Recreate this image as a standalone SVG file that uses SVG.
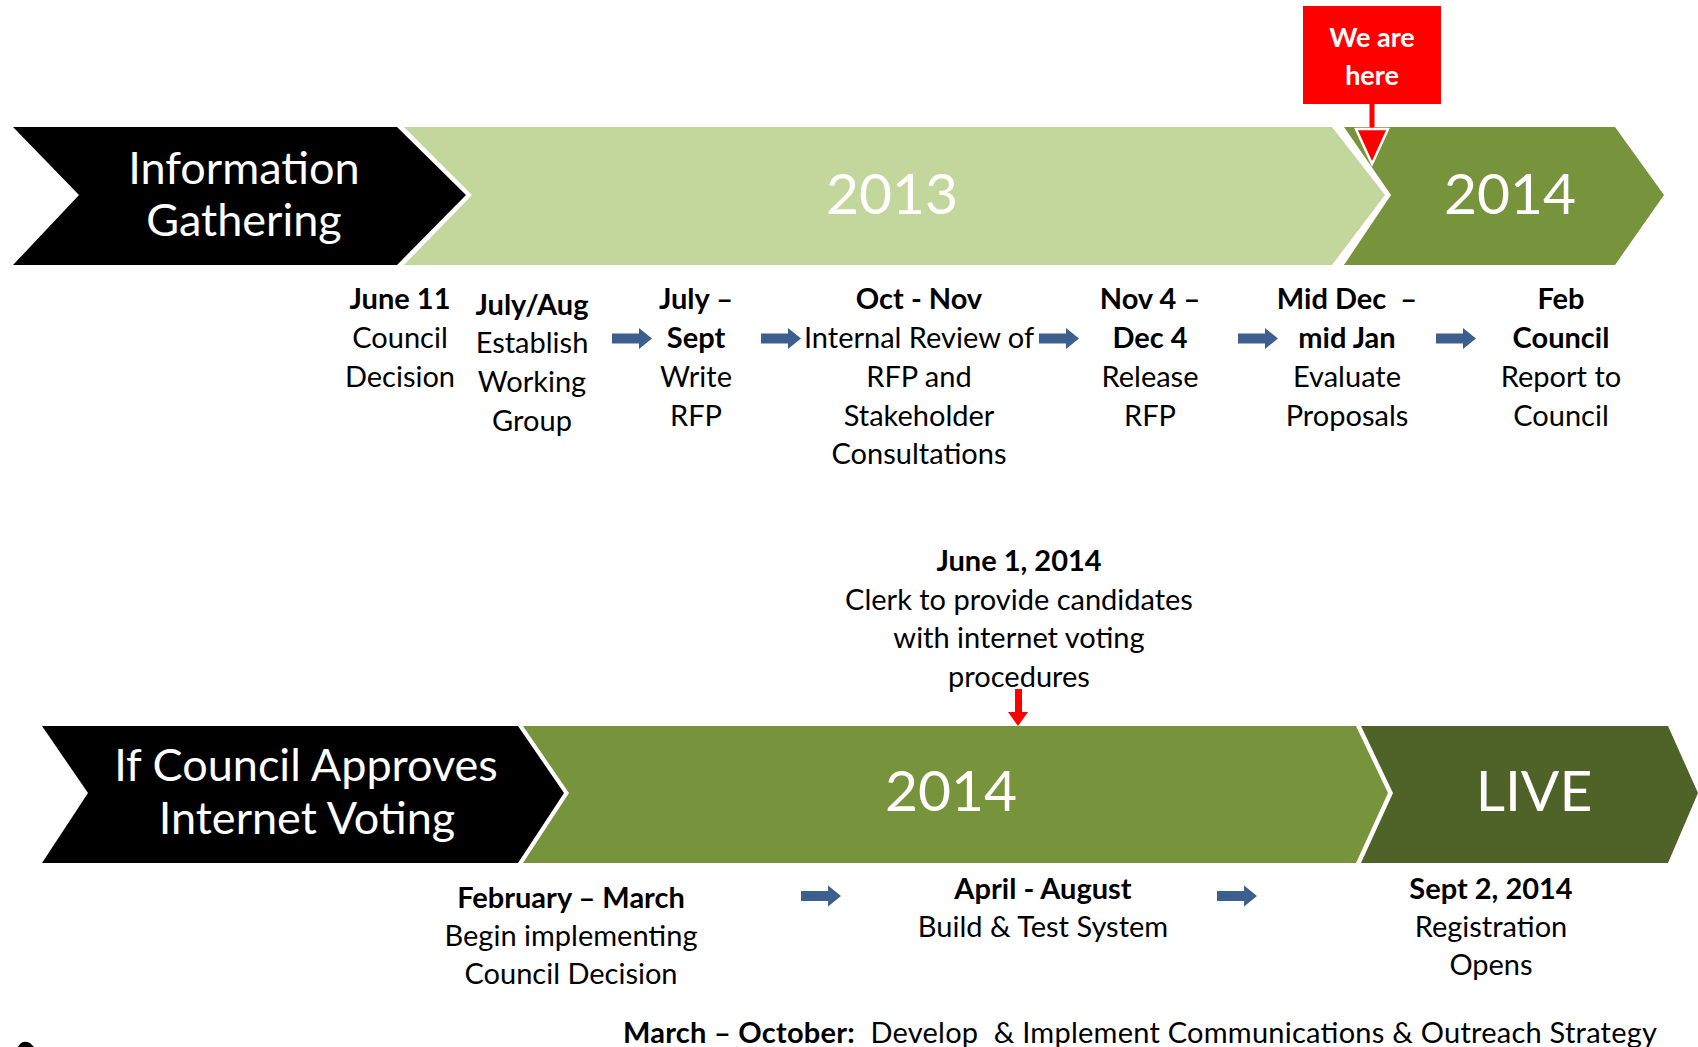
<svg xmlns="http://www.w3.org/2000/svg" width="1698" height="1047" viewBox="0 0 1698 1047">
<style>
text{font-family:Lato,"Noto Sans",sans-serif;text-anchor:middle}
.b{font-size:29px;fill:#000}
.bd{font-weight:bold}
.big{font-size:45px;fill:#fff}
.yr{font-size:57px;fill:#fff}
.blk{fill:#000}
.lg{fill:#C3D69B}
.mg{fill:#77933C}
.dg{fill:#4F6228}
.arr{fill:#3C5F8F}
</style>
<defs>
<path id="ba" d="M0 -5 H27 V-10.5 L40 0 L27 10.5 V5 H0 Z"/>
</defs>
<rect width="1698" height="1047" fill="#fff"/>

<g id="top-info">
<polygon class="blk" points="13,127 397,127 466,195 397,265 13,265 79,195"/>
<text class="big" x="244" y="184">Information</text>
<text class="big" x="244" y="236">Gathering</text>
</g>
<g id="top-2013">
<polygon class="lg" points="404,127 1332,127 1385,195 1332,265 404,265 472,195"/>
<text class="yr" x="892" y="214">2013</text>
</g>
<g id="top-2014">
<polygon class="mg" points="1344,127 1615,127 1664,195 1615,265 1344,265 1391,195"/>
<text class="yr" x="1510" y="214">2014</text>
</g>
<g id="we-are-here">
<rect x="1303" y="6" width="138" height="98" fill="#FF0000"/>
<text x="1372" y="47" font-size="27" font-weight="bold" fill="#fff">We are</text>
<text x="1372" y="85" font-size="27" font-weight="bold" fill="#fff">here</text>
<rect x="1369.5" y="104" width="5" height="27" fill="#FF0000"/>
<polygon points="1356,129 1388,129 1372,164" fill="#FF0000" stroke="#fff" stroke-width="2.5" stroke-linejoin="miter"/>
</g>

<g id="t1">
<text x="400" y="309" class="b bd">June 11</text>
<text x="400" y="348" class="b">Council</text>
<text x="400" y="387" class="b">Decision</text>
</g>
<g id="t2">
<text x="532" y="315" class="b bd">July/Aug</text>
<text x="532" y="353" class="b">Establish</text>
<text x="532" y="392" class="b">Working</text>
<text x="532" y="431" class="b">Group</text>
</g>
<g id="t3">
<text x="696" y="309" class="b bd">July –</text>
<text x="696" y="348" class="b bd">Sept</text>
<text x="696" y="387" class="b">Write</text>
<text x="696" y="426" class="b">RFP</text>
</g>
<g id="t4">
<text x="919" y="309" class="b bd">Oct - Nov</text>
<text x="919" y="348" class="b">Internal Review of</text>
<text x="919" y="387" class="b">RFP and</text>
<text x="919" y="426" class="b">Stakeholder</text>
<text x="919" y="464" class="b">Consultations</text>
</g>
<g id="t5">
<text x="1150" y="309" class="b bd">Nov 4 –</text>
<text x="1150" y="348" class="b bd">Dec 4</text>
<text x="1150" y="387" class="b">Release</text>
<text x="1150" y="426" class="b">RFP</text>
</g>
<g id="t6">
<text x="1347" y="309" class="b bd" xml:space="preserve">Mid Dec  –</text>
<text x="1347" y="348" class="b bd">mid Jan</text>
<text x="1347" y="387" class="b">Evaluate</text>
<text x="1347" y="426" class="b">Proposals</text>
</g>
<g id="t7">
<text x="1561" y="309" class="b bd">Feb</text>
<text x="1561" y="348" class="b bd">Council</text>
<text x="1561" y="387" class="b">Report to</text>
<text x="1561" y="426" class="b">Council</text>
</g>

<g id="bottom-approve">
<polygon class="blk" points="42,726 518,726 564,793 518,863 42,863 88,793"/>
<text class="big" x="306" y="781">If Council Approves</text>
<text class="big" x="307" y="834">Internet Voting</text>
</g>
<g id="bottom-2014">
<polygon class="mg" points="523,726 1356,726 1388,793 1356,863 523,863 569,793"/>
<text class="yr" x="951" y="811">2014</text>
</g>
<g id="bottom-live">
<polygon class="dg" points="1361,726 1668,726 1698,793 1668,863 1361,863 1393,793"/>
<text class="yr" x="1534" y="811">LIVE</text>
</g>

<g id="june1">
<text x="1019" y="571" class="b bd">June 1, 2014</text>
<text x="1019" y="610" class="b">Clerk to provide candidates</text>
<text x="1019" y="648" class="b">with internet voting</text>
<text x="1019" y="687" class="b">procedures</text>
<rect x="1015" y="689" width="7" height="25" fill="#FF0000"/>
<polygon points="1008,712 1028,712 1018,726" fill="#FF0000"/>
</g>

<g id="b1">
<text x="571" y="908" class="b bd">February – March</text>
<text x="571" y="946" class="b">Begin implementing</text>
<text x="571" y="984" class="b">Council Decision</text>
</g>
<g id="b2">
<text x="1043" y="899" class="b bd">April - August</text>
<text x="1043" y="937" class="b">Build &amp; Test System</text>
</g>
<g id="b3">
<text x="1491" y="899" class="b bd">Sept 2, 2014</text>
<text x="1491" y="937" class="b">Registration</text>
<text x="1491" y="975" class="b">Opens</text>
</g>
<g id="b4">
<text x="623" y="1043" class="b" style="text-anchor:start" textLength="1034" xml:space="preserve"><tspan font-weight="bold">March – October:</tspan>  Develop  &amp; Implement Communications &amp; Outreach Strategy</text>
</g>

<g id="connectors">
<use href="#ba" class="arr" x="612" y="338.5"/>
<use href="#ba" class="arr" x="761" y="338.5"/>
<use href="#ba" class="arr" x="1039" y="338.5"/>
<use href="#ba" class="arr" x="1238" y="338.5"/>
<use href="#ba" class="arr" x="1436" y="338.5"/>
<use href="#ba" class="arr" x="801" y="896"/>
<use href="#ba" class="arr" x="1217" y="896"/>
</g>

<path d="M18 1047 Q22 1039 30 1043 L34 1047 Z" fill="#000"/>
</svg>
